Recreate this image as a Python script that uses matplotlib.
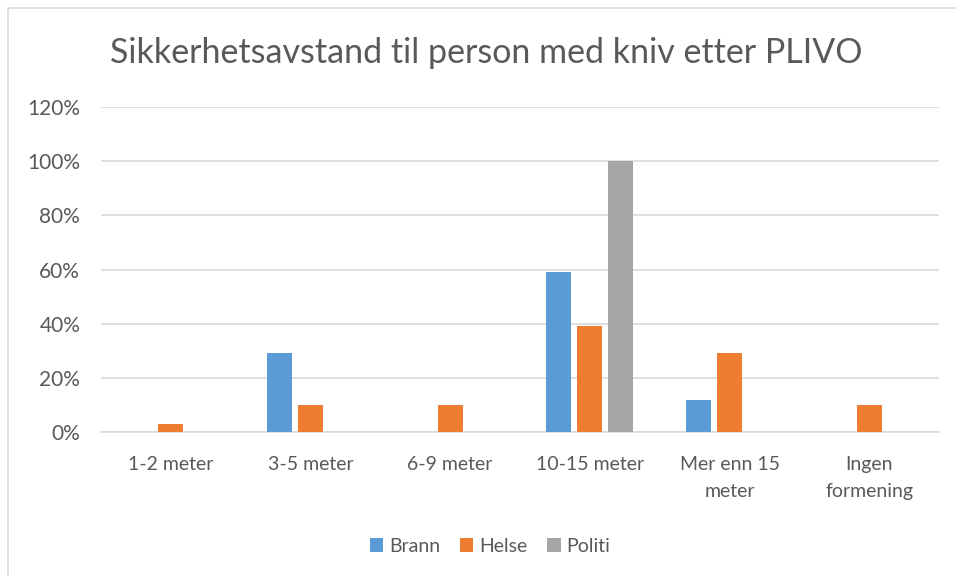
import matplotlib
matplotlib.use("Agg")
import matplotlib.pyplot as plt
import numpy as np
from matplotlib.patches import Rectangle
from matplotlib.ticker import PercentFormatter

# Data (percent)
categories = ["1-2 meter", "3-5 meter", "6-9 meter", "10-15 meter",
              "Mer enn 15\nmeter", "Ingen\nformening"]
brann = [0, 29, 0, 59, 12, 0]
helse = [3, 10, 10, 39, 29, 10]
politi = [0, 0, 0, 100, 0, 0]
yticks = [0, 20, 40, 60, 80, 100, 120]

plt.rcParams['font.family'] = ['Lato', 'DejaVu Sans']
text_color = '#595959'
grid_color = '#d9d9d9'

fig = plt.figure(figsize=(9.56, 5.76), dpi=100)
ax = fig.add_axes([101 / 956, 144 / 576, 838 / 956, 325 / 576])

x = np.arange(len(categories))
w = 0.179
off = 0.222
ax.bar(x - off, brann, w, color='#5b9bd5', label='Brann', zorder=3)
ax.bar(x, helse, w, color='#ed7d31', label='Helse', zorder=3)
ax.bar(x + off, politi, w, color='#a5a5a5', label='Politi', zorder=3)

ax.set_xlim(-0.5, len(categories) - 0.5)
ax.set_ylim(0, 120)
ax.set_yticks(yticks)
ax.yaxis.set_major_formatter(PercentFormatter(decimals=0))
ax.set_xticks(x)
ax.set_xticklabels(categories, linespacing=1.75)
ax.grid(axis='y', color=grid_color, linewidth=1.2, zorder=0)
for s in ['top', 'right', 'left']:
    ax.spines[s].set_visible(False)
ax.spines['bottom'].set_color(grid_color)
ax.spines['bottom'].set_linewidth(1.2)
ax.tick_params(axis='both', length=0, labelsize=14, colors=text_color)
ax.tick_params(axis='y', pad=15, labelsize=15)
ax.tick_params(axis='x', pad=17)

fig.suptitle("Sikkerhetsavstand til person med kniv etter PLIVO",
             x=0.509, y=1 - 53 / 576, va='center', fontsize=24.5,
             color=text_color)

leg = fig.legend(loc='center', bbox_to_anchor=(490 / 956, 1 - 546 / 576),
                 ncol=3, frameon=False, fontsize=14, handlelength=0.7,
                 handleheight=0.7, handletextpad=0.3, columnspacing=1.0)
for t in leg.get_texts():
    t.set_color(text_color)

# chart border
fig.patches.append(Rectangle((7.5 / 956, -0.01), 1.0, 1 - 8 / 576 + 0.01,
                             transform=fig.transFigure, fill=False,
                             edgecolor=grid_color, linewidth=1.2))

fig.savefig("out.png", dpi=100)
